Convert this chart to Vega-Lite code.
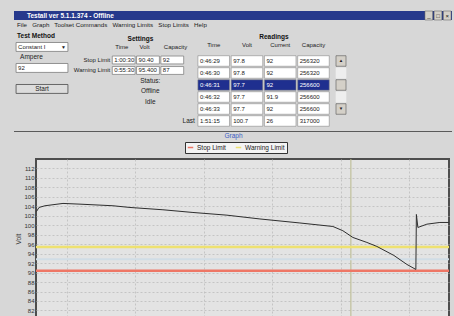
{
  "$schema": "https://vega.github.io/schema/vega-lite/v6.json",
  "background": "#d7d7d7",
  "padding": {"left": 14, "top": 10, "right": 2, "bottom": 0},
  "config": {
    "font": "Liberation Sans",
    "view": {"stroke": null},
    "concat": {"spacing": 0},
    "title": {"font": "Liberation Sans"},
    "axis": {"labelOverlap": false, "labelSeparation": 0}
  },
  "spacing": 0,
  "resolve": {"legend": {"color": "independent"}},
  "vconcat": [
    {
      "spacing": 0,
      "hconcat": [
        {
          "width": 410,
          "height": 9,
          "view": {"fill": "#26398c"},
          "data": {"values": [{"part": "caption", "text": "Testall ver 5.1.1.374 - Offline"}]},
          "mark": {"type": "text", "align": "left", "baseline": "middle", "fontSize": 6.5, "fontWeight": "bold", "color": "#ffffff"},
          "encoding": {
            "x": {"field": "part", "type": "nominal", "bandPosition": 0, "axis": null, "scale": {"type": "band", "paddingInner": 0, "paddingOuter": 0.5, "align": 0.063}},
            "text": {"field": "text"}
          }
        },
        {
          "width": 28,
          "height": 9,
          "view": {"fill": "#26398c"},
          "data": {"values": [{"button": "minimize", "glyph": "_"}, {"button": "maximize", "glyph": "□"}, {"button": "close", "glyph": "×"}]},
          "layer": [
            {
              "mark": {"type": "rect", "fill": "#d4d0c8", "stroke": "#555555", "strokeWidth": 0.5},
              "encoding": {"x": {"field": "button", "type": "nominal", "sort": null, "axis": null, "scale": {"type": "band", "paddingInner": 0.15, "paddingOuter": 0.1}}}
            },
            {
              "mark": {"type": "text", "fontSize": 6, "color": "#111111", "baseline": "middle"},
              "encoding": {
                "x": {"field": "button", "type": "nominal", "sort": null, "axis": null, "scale": {"type": "band", "paddingInner": 0.15, "paddingOuter": 0.1}},
                "text": {"field": "glyph"}
              }
            }
          ]
        }
      ]
    },
    {
      "title": {"text": "File\u00a0\u00a0 Graph\u00a0\u00a0 Toolset Commands\u00a0\u00a0 Warning Limits\u00a0\u00a0 Stop Limits\u00a0\u00a0 Help", "anchor": "start", "fontSize": 6.2, "fontWeight": "normal", "color": "#1a1a1a", "offset": 2, "dx": 3},
      "spacing": 0,
      "bounds": "flush",
      "hconcat": [
        {
          "width": 56,
          "height": {"step": 10.5},
          "data": {"values": [
            {"group": "Test Method", "row": "heading", "text": "Test Method"},
            {"group": "Test Method", "row": "method", "text": "Constant I"},
            {"group": "Test Method", "row": "unit", "text": "Ampere"},
            {"group": "Test Method", "row": "amps", "text": "92"},
            {"group": "Test Method", "row": "start", "text": "Start"}
          ]},
          "encoding": {
            "y": {"field": "row", "type": "nominal", "axis": null, "scale": {"type": "band", "domain": ["heading", "method", "unit", "amps", "gap", "start"], "paddingInner": 0.15, "paddingOuter": 0.19, "align": 0.5}}
          },
          "layer": [
            {
              "transform": [{"filter": {"field": "row", "oneOf": ["method", "amps"]}}],
              "mark": {"type": "rect", "fill": "#ffffff", "stroke": "#7b7b7b", "strokeWidth": 0.8},
              "encoding": {"x": {"field": "group", "type": "nominal", "axis": null, "scale": {"type": "band", "paddingInner": 0, "paddingOuter": 0.04}}}
            },
            {
              "transform": [{"filter": {"field": "row", "equal": "start"}}],
              "mark": {"type": "rect", "fill": "#dcdcdc", "stroke": "#4a4a4a", "strokeWidth": 0.8},
              "encoding": {"x": {"field": "group", "type": "nominal", "axis": null, "scale": {"type": "band", "paddingInner": 0, "paddingOuter": 0.04}}}
            },
            {
              "transform": [{"filter": {"field": "row", "equal": "heading"}}],
              "mark": {"type": "text", "align": "left", "baseline": "middle", "fontSize": 6.5, "fontWeight": "bold", "dx": 1, "color": "#111111"},
              "encoding": {"x": {"field": "group", "type": "nominal", "axis": null, "bandPosition": 0, "scale": {"type": "band", "paddingInner": 0, "paddingOuter": 0.04}}, "text": {"field": "text"}}
            },
            {
              "transform": [{"filter": {"field": "row", "oneOf": ["method", "amps"]}}],
              "mark": {"type": "text", "align": "left", "baseline": "middle", "fontSize": 6, "dx": 2, "color": "#222222"},
              "encoding": {"x": {"field": "group", "type": "nominal", "axis": null, "bandPosition": 0, "scale": {"type": "band", "paddingInner": 0, "paddingOuter": 0.04}}, "text": {"field": "text"}}
            },
            {
              "transform": [{"filter": {"field": "row", "equal": "unit"}}],
              "mark": {"type": "text", "align": "left", "baseline": "middle", "fontSize": 6.5, "dx": 4, "color": "#222222"},
              "encoding": {"x": {"field": "group", "type": "nominal", "axis": null, "bandPosition": 0, "scale": {"type": "band", "paddingInner": 0, "paddingOuter": 0.04}}, "text": {"field": "text"}}
            },
            {
              "transform": [{"filter": {"field": "row", "equal": "method"}}],
              "mark": {"type": "text", "align": "right", "baseline": "middle", "fontSize": 5, "dx": -2, "color": "#222222"},
              "encoding": {"x": {"field": "group", "type": "nominal", "axis": null, "bandPosition": 1, "scale": {"type": "band", "paddingInner": 0, "paddingOuter": 0.04}}, "text": {"value": "▼"}}
            },
            {
              "transform": [{"filter": {"field": "row", "equal": "start"}}],
              "mark": {"type": "text", "baseline": "middle", "fontSize": 6.5, "color": "#222222"},
              "encoding": {"x": {"field": "group", "type": "nominal", "axis": null, "scale": {"type": "band", "paddingInner": 0, "paddingOuter": 0.04}}, "text": {"field": "text"}}
            }
          ]
        },
        {
          "width": 120,
          "height": {"step": 10.5},
          "encoding": {
            "y": {"field": "row", "type": "nominal", "axis": null, "scale": {"type": "band", "domain": ["heading", "columns", "Stop Limit", "Warning Limit", "Status:", "Offline", "Idle"], "paddingInner": 0.25, "paddingOuter": 0.48, "align": 0.5}}
          },
          "layer": [
            {
              "data": {"values": [{"row": "heading", "col": "Volt", "text": "Settings"}]},
              "mark": {"type": "text", "baseline": "middle", "fontSize": 6.5, "fontWeight": "bold", "color": "#111111"},
              "encoding": {"x": {"field": "col", "type": "nominal", "axis": null, "bandPosition": 0.17, "scale": {"type": "band", "domain": ["label", "Time", "Volt", "Capacity"], "paddingInner": 0.06, "paddingOuter": 0.5, "align": 0.74}}, "text": {"field": "text"}}
            },
            {
              "data": {"values": [
                {"row": "columns", "col": "Time", "text": "Time"},
                {"row": "columns", "col": "Volt", "text": "Volt"},
                {"row": "columns", "col": "Capacity", "text": "Capacity"}
              ]},
              "mark": {"type": "text", "align": "left", "baseline": "middle", "fontSize": 6, "dx": 3, "dy": -2, "color": "#222222"},
              "encoding": {"x": {"field": "col", "type": "nominal", "axis": null, "bandPosition": 0, "scale": {"type": "band", "domain": ["label", "Time", "Volt", "Capacity"], "paddingInner": 0.06, "paddingOuter": 0.5, "align": 0.74}}, "text": {"field": "text"}}
            },
            {
              "data": {"values": [
                {"row": "Stop Limit", "col": "Time", "value": "1:00:30"},
                {"row": "Stop Limit", "col": "Volt", "value": "90.40"},
                {"row": "Stop Limit", "col": "Capacity", "value": "92"},
                {"row": "Warning Limit", "col": "Time", "value": "0:55:30"},
                {"row": "Warning Limit", "col": "Volt", "value": "95.400"},
                {"row": "Warning Limit", "col": "Capacity", "value": "87"}
              ]},
              "layer": [
                {
                  "mark": {"type": "rect", "fill": "#ffffff", "stroke": "#777777", "strokeWidth": 0.7},
                  "encoding": {"x": {"field": "col", "type": "nominal", "axis": null, "scale": {"type": "band", "domain": ["label", "Time", "Volt", "Capacity"], "paddingInner": 0.06, "paddingOuter": 0.5, "align": 0.74}}}
                },
                {
                  "mark": {"type": "text", "align": "left", "baseline": "middle", "fontSize": 6, "dx": 2, "color": "#222222"},
                  "encoding": {"x": {"field": "col", "type": "nominal", "axis": null, "bandPosition": 0, "scale": {"type": "band", "domain": ["label", "Time", "Volt", "Capacity"], "paddingInner": 0.06, "paddingOuter": 0.5, "align": 0.74}}, "text": {"field": "value"}}
                },
                {
                  "transform": [{"filter": {"field": "col", "equal": "Time"}}],
                  "mark": {"type": "text", "align": "right", "baseline": "middle", "fontSize": 6, "dx": -2, "color": "#222222"},
                  "encoding": {"x": {"field": "col", "type": "nominal", "axis": null, "bandPosition": 0, "scale": {"type": "band", "domain": ["label", "Time", "Volt", "Capacity"], "paddingInner": 0.06, "paddingOuter": 0.5, "align": 0.74}}, "text": {"field": "row"}}
                }
              ]
            },
            {
              "data": {"values": [
                {"row": "Status:", "col": "Volt"},
                {"row": "Offline", "col": "Volt"},
                {"row": "Idle", "col": "Volt"}
              ]},
              "mark": {"type": "text", "baseline": "middle", "fontSize": 6.5, "color": "#222222"},
              "encoding": {
                "x": {"field": "col", "type": "nominal", "axis": null, "bandPosition": 0.6, "scale": {"type": "band", "domain": ["label", "Time", "Volt", "Capacity"], "paddingInner": 0.06, "paddingOuter": 0.5, "align": 0.74}},
                "text": {"field": "row"}
              }
            }
          ]
        },
        {
          "width": 146,
          "height": 100,
          "encoding": {
            "y": {"field": "row", "type": "nominal", "axis": null, "scale": {"type": "band", "domain": ["heading", "columns", "1", "2", "3", "4", "5", "Last"], "paddingInner": 0.12, "paddingOuter": 0.227, "align": 0.316}}
          },
          "layer": [
            {
              "data": {"values": [{"row": "heading", "col": "Current", "text": "Readings"}]},
              "mark": {"type": "text", "baseline": "middle", "fontSize": 6.5, "fontWeight": "bold", "color": "#111111"},
              "encoding": {"x": {"field": "col", "type": "nominal", "axis": null, "bandPosition": 0.3, "scale": {"type": "band", "domain": ["Time", "Volt", "Current", "Capacity"], "paddingInner": 0.05, "paddingOuter": 0.22, "align": 0.54}}, "text": {"field": "text"}}
            },
            {
              "data": {"values": [
                {"row": "columns", "col": "Time", "text": "Time"},
                {"row": "columns", "col": "Volt", "text": "Volt"},
                {"row": "columns", "col": "Current", "text": "Current"},
                {"row": "columns", "col": "Capacity", "text": "Capacity"}
              ]},
              "mark": {"type": "text", "baseline": "middle", "fontSize": 6, "dy": -4, "color": "#222222"},
              "encoding": {"x": {"field": "col", "type": "nominal", "axis": null, "scale": {"type": "band", "domain": ["Time", "Volt", "Current", "Capacity"], "paddingInner": 0.05, "paddingOuter": 0.22, "align": 0.54}}, "text": {"field": "text"}}
            },
            {
              "data": {"values": [
                {"row": "1", "Time": "0:46:29", "Volt": "97.8", "Current": "92", "Capacity": "256320"},
                {"row": "2", "Time": "0:46:30", "Volt": "97.8", "Current": "92", "Capacity": "256320"},
                {"row": "3", "Time": "0:46:31", "Volt": "97.7", "Current": "92", "Capacity": "256600"},
                {"row": "4", "Time": "0:46:32", "Volt": "97.7", "Current": "91.9", "Capacity": "256600"},
                {"row": "5", "Time": "0:46:33", "Volt": "97.7", "Current": "92", "Capacity": "256600"},
                {"row": "Last", "Time": "1:51:15", "Volt": "100.7", "Current": "26", "Capacity": "317000"}
              ]},
              "transform": [{"fold": ["Time", "Volt", "Current", "Capacity"], "as": ["col", "value"]}],
              "layer": [
                {
                  "mark": {"type": "rect", "stroke": "#888888", "strokeWidth": 0.6},
                  "encoding": {
                    "x": {"field": "col", "type": "nominal", "axis": null, "scale": {"type": "band", "domain": ["Time", "Volt", "Current", "Capacity"], "paddingInner": 0.05, "paddingOuter": 0.22, "align": 0.54}},
                    "fill": {"condition": {"test": "datum.row === '3'", "value": "#1f2f8f"}, "value": "#ffffff"}
                  }
                },
                {
                  "mark": {"type": "text", "align": "left", "baseline": "middle", "fontSize": 6, "dx": 2},
                  "encoding": {
                    "x": {"field": "col", "type": "nominal", "axis": null, "bandPosition": 0, "scale": {"type": "band", "domain": ["Time", "Volt", "Current", "Capacity"], "paddingInner": 0.05, "paddingOuter": 0.22, "align": 0.54}},
                    "text": {"field": "value"},
                    "color": {"condition": {"test": "datum.row === '3'", "value": "#ffffff"}, "value": "#222222"}
                  }
                },
                {
                  "transform": [{"filter": "datum.row === 'Last' && datum.col === 'Time'"}],
                  "mark": {"type": "text", "align": "right", "baseline": "middle", "fontSize": 6.5, "dx": -3, "color": "#222222"},
                  "encoding": {
                    "x": {"field": "col", "type": "nominal", "axis": null, "bandPosition": 0, "scale": {"type": "band", "domain": ["Time", "Volt", "Current", "Capacity"], "paddingInner": 0.05, "paddingOuter": 0.22, "align": 0.54}},
                    "text": {"value": "Last"}
                  }
                }
              ]
            }
          ]
        },
        {
          "width": 10,
          "height": 100,
          "data": {"values": [
            {"row": "1", "part": "up", "glyph": "▲"},
            {"row": "2", "part": "track", "glyph": ""},
            {"row": "3", "part": "thumb", "glyph": ""},
            {"row": "4", "part": "track", "glyph": ""},
            {"row": "5", "part": "down", "glyph": "▼"}
          ]},
          "encoding": {
            "y": {"field": "row", "type": "nominal", "axis": null, "scale": {"type": "band", "domain": ["heading", "columns", "1", "2", "3", "4", "5", "Last"], "paddingInner": 0.12, "paddingOuter": 0.227, "align": 0.316}}
          },
          "layer": [
            {
              "mark": {"type": "rect", "strokeWidth": 0.6},
              "encoding": {
                "fill": {"condition": {"test": "datum.part === 'track'", "value": "#eeeeee"}, "value": "#d4d0c8"},
                "stroke": {"condition": {"test": "datum.part === 'track'", "value": "#eeeeee"}, "value": "#555555"}
              }
            },
            {
              "mark": {"type": "text", "fontSize": 4.5, "baseline": "middle", "color": "#222222"},
              "encoding": {"text": {"field": "glyph"}}
            }
          ]
        }
      ]
    },
    {
      "width": 438,
      "height": 1,
      "view": {"fill": "#5a5a5a"},
      "data": {"values": [{}]},
      "mark": {"type": "text", "fontSize": 1},
      "encoding": {"text": {"value": ""}}
    },
    {
      "bounds": "flush",
      "spacing": 0,
      "resolve": {"legend": {"color": "independent"}},
      "hconcat": [
        {
          "width": 22,
          "height": 1,
          "data": {"values": [{}]},
          "mark": {"type": "text", "fontSize": 1},
          "encoding": {"text": {"value": ""}}
        },
        {
          "width": 413,
          "height": 159,
          "title": {"text": "Graph", "fontSize": 6.5, "fontWeight": "normal", "color": "#3a5cc4", "offset": 2, "dx": -9},
          "view": {"fill": "#e3e3e3", "stroke": "#4d4d4d", "strokeWidth": 2},
          "layer": [
            {
              "data": {"values": [{"minute": 93.0}]},
              "mark": {"type": "rule", "color": "#b9b98c", "strokeWidth": 1},
              "encoding": {
                "x": {"field": "minute", "type": "quantitative", "scale": {"domain": [0.9, 121.7], "nice": false, "zero": false},
                  "axis": {"values": [10, 20, 30, 40, 50, 60, 70, 80, 90, 100, 110, 120], "grid": true, "gridColor": "#bcbcbc", "gridDash": [2, 2], "gridWidth": 0.8, "labels": false, "ticks": false, "domain": false, "title": null}}
              }
            },
            {
              "data": {"values": [{"limit": "Stop Limit", "volt": 90.4}, {"limit": "Warning Limit", "volt": 95.4}]},
              "mark": {"type": "rule", "strokeWidth": 2.5},
              "encoding": {
                "y": {"field": "volt", "type": "quantitative", "scale": {"domain": [80.4, 114], "nice": false, "zero": false},
                  "axis": {"values": [82, 84, 86, 88, 90, 92, 94, 96, 98, 100, 102, 104, 106, 108, 110, 112], "labelOverlap": false, "labelSeparation": 0, "grid": true, "gridColor": "#bcbcbc", "gridDash": [2, 2], "gridWidth": 0.8, "ticks": false, "domain": false, "labelFontSize": 6, "labelColor": "#333333", "labelPadding": 2, "title": "Volt", "titleFontSize": 6.5, "titleFontWeight": "normal", "titleColor": "#333333", "titlePadding": 2}},
                "color": {"field": "limit", "type": "nominal",
                  "scale": {"domain": ["Stop Limit", "Warning Limit"], "range": ["#ee7766", "#eee170"]},
                  "legend": {"title": null, "orient": "none", "legendX": 149, "legendY": -17, "direction": "horizontal", "symbolType": "stroke", "symbolSize": 30, "symbolStrokeWidth": 1.5, "labelFontSize": 6.5, "labelColor": "#222222", "fillColor": "#f4f4f4", "strokeColor": "#333333", "padding": 2, "columnPadding": 6, "labelOffset": 3}}
              }
            },
            {
              "data": {"values": [{"volt": 92.8}]},
              "mark": {"type": "rule", "color": "#d0dde6", "strokeWidth": 2},
              "encoding": {"y": {"field": "volt", "type": "quantitative",
                "axis": {"values": [82, 84, 86, 88, 90, 92, 94, 96, 98, 100, 102, 104, 106, 108, 110, 112], "labelOverlap": false, "labelSeparation": 0, "grid": true, "gridColor": "#bcbcbc", "gridDash": [2, 2], "gridWidth": 0.8, "ticks": false, "domain": false, "labelFontSize": 6, "labelColor": "#333333", "labelPadding": 2, "title": "Volt", "titleFontSize": 6.5, "titleFontWeight": "normal", "titleColor": "#333333", "titlePadding": 2}}}
            },
            {
              "data": {"values": [
                {"minute": 1.05, "volt": 102.91},
                {"minute": 1.78, "volt": 103.76},
                {"minute": 3.53, "volt": 104.12},
                {"minute": 8.79, "volt": 104.61},
                {"minute": 13.77, "volt": 104.46},
                {"minute": 23.41, "volt": 104.12},
                {"minute": 28.39, "volt": 103.76},
                {"minute": 38.03, "volt": 103.27},
                {"minute": 46.81, "volt": 102.70},
                {"minute": 56.75, "volt": 102.13},
                {"minute": 66.40, "volt": 101.33},
                {"minute": 78.09, "volt": 100.48},
                {"minute": 87.74, "volt": 99.74},
                {"minute": 90.66, "volt": 98.84},
                {"minute": 93.59, "volt": 97.42},
                {"minute": 97.68, "volt": 96.37},
                {"minute": 100.61, "volt": 95.52},
                {"minute": 105.58, "volt": 93.62},
                {"minute": 109.38, "volt": 91.72},
                {"minute": 112.01, "volt": 90.66},
                {"minute": 112.16, "volt": 102.28},
                {"minute": 112.60, "volt": 99.53},
                {"minute": 115.23, "volt": 100.23},
                {"minute": 119.03, "volt": 100.59},
                {"minute": 121.66, "volt": 100.59}
              ]},
              "mark": {"type": "line", "color": "#2e2e2e", "strokeWidth": 1},
              "encoding": {
                "x": {"field": "minute", "type": "quantitative"},
                "y": {"field": "volt", "type": "quantitative",
                  "axis": {"values": [82, 84, 86, 88, 90, 92, 94, 96, 98, 100, 102, 104, 106, 108, 110, 112], "labelOverlap": false, "labelSeparation": 0, "grid": true, "gridColor": "#bcbcbc", "gridDash": [2, 2], "gridWidth": 0.8, "ticks": false, "domain": false, "labelFontSize": 6, "labelColor": "#333333", "labelPadding": 2, "title": "Volt", "titleFontSize": 6.5, "titleFontWeight": "normal", "titleColor": "#333333", "titlePadding": 2}}
              }
            }
          ]
        }
      ]
    }
  ]
}
